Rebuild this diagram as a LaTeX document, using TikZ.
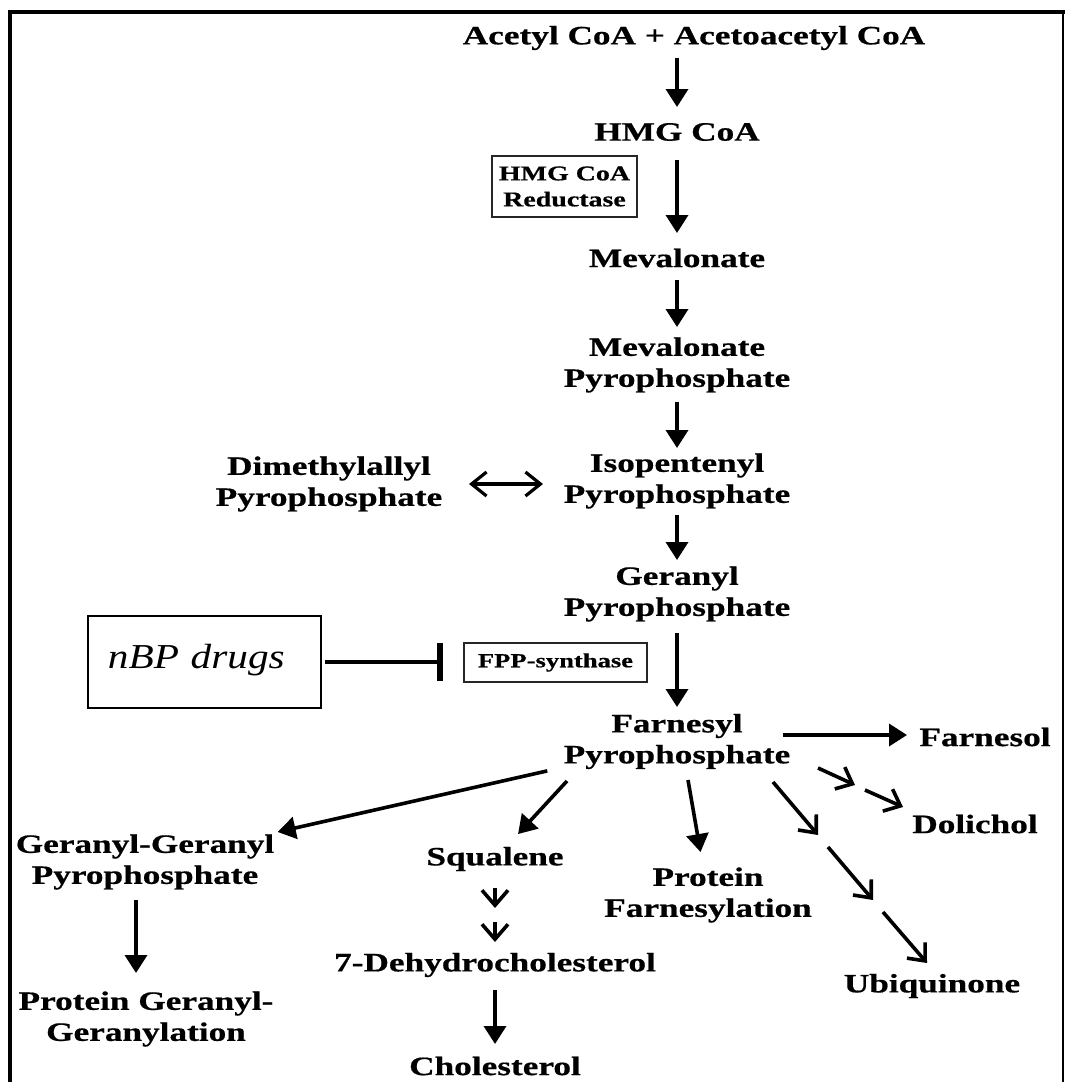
\documentclass[tikz,border=0pt]{standalone}
\usepackage{fontspec}
\newfontfamily\labfont{Liberation Serif Bold}[FakeStretch=1.33, FakeBold=0.6]
\newfontfamily\drugfont{Liberation Serif Italic}[FakeStretch=1.18]
\usetikzlibrary{arrows.meta}
\begin{document}
\begin{tikzpicture}[x=1pt,y=-1pt,
  lab/.style={font={\labfont\fontsize{26.5}{31}\selectfont}, align=center, inner sep=0pt},
  enzbox/.style={draw=black!85, line width=1.6pt, inner sep=0pt, align=center},
  arr/.style={line width=3.6pt, -{Triangle[width=22pt,length=18pt]}},
  openarr/.style={line width=3.6pt, -{Straight Barb[length=14pt,width=24pt,line width=3.6pt]}},
  smallopen/.style={line width=3.6pt, -{Straight Barb[length=15pt,width=26pt,line width=3.6pt]}},
  dblarr/.style={line width=3.2pt, {Straight Barb[length=15pt,width=24pt,line width=3.2pt]}-{Straight Barb[length=15pt,width=24pt,line width=3.2pt]}},
  inhib/.style={line width=4.5pt, -{Bar[width=38pt,line width=6pt]}},
  frameline/.style={line width=4pt}]
\useasboundingbox (0,0) rectangle (1065,1082);
% frame
\draw[frameline] (10.3,1082) -- (10.3,11.7) -- (1065,11.7);
\draw[line width=1.5pt] (1063,11.7) -- (1063,1082);

% main column
\node[lab] (acetyl) at (694,38) {Acetyl CoA + Acetoacetyl CoA};
\node[lab] (hmg) at (677,132) {HMG CoA};
\node[enzbox, minimum width=145pt, minimum height=61pt, font={\labfont\fontsize{21}{26}\selectfont}] (hmgr) at (564.5,186.5) {HMG CoA\\Reductase};
\node[lab] (mev) at (677,258) {Mevalonate};
\node[lab] (mpp) at (677,365) {Mevalonate\\Pyrophosphate};
\node[lab] (ipp) at (677,481) {Isopentenyl\\Pyrophosphate};
\node[lab] (dmapp) at (329,484) {Dimethylallyl\\Pyrophosphate};
\node[lab] (gpp) at (677,594) {Geranyl\\Pyrophosphate};
\node[enzbox, minimum width=183pt, minimum height=39pt, font={\labfont\fontsize{20}{24}\selectfont}] (fppsyn) at (555.5,662.5) {FPP-synthase};
\node[draw, line width=1.8pt, anchor=north west, inner xsep=20pt, inner ysep=0pt, text width=193pt, align=left, text height=53pt, text depth=39pt, font={\drugfont\fontsize{35}{40}\selectfont}] (nbp) at (87,615) {nBP drugs};
\node[lab] (fpp) at (677,741.5) {Farnesyl\\Pyrophosphate};

% products
\node[lab] (farnesol) at (985,737) {Farnesol};
\node[lab] (dolichol) at (975,824) {Dolichol};
\node[lab] (ubiq) at (932,986) {Ubiquinone};
\node[lab] (ggpp) at (145,862) {Geranyl-Geranyl\\Pyrophosphate};
\node[lab] (pgg) at (146,1019) {Protein Geranyl-\\Geranylation};
\node[lab] (squal) at (495,859) {Squalene};
\node[lab] (protf) at (708,895) {Protein\\Farnesylation};
\node[lab] (dhc) at (495,965) {7-Dehydrocholesterol};
\node[lab] (chol) at (495,1066) {Cholesterol};

% free start points
\coordinate (fol0) at (783,735);
\coordinate (sq0) at (567,781);
\coordinate (pf0) at (688,780);
\coordinate (d1a) at (818,768); \coordinate (d1b) at (855,785);
\coordinate (d2a) at (865,790); \coordinate (d2b) at (903,807);
\coordinate (u1a) at (773,782); \coordinate (u1b) at (818,835);
\coordinate (u2a) at (828,847); \coordinate (u2b) at (873,900);
\coordinate (u3a) at (883,912); \coordinate (u3b) at (927,963);

% main pathway arrows
\draw[arr, shorten <=20pt, shorten >=25pt] (acetyl.center -| hmg.center) -- (hmg.center);
\draw[arr, shorten <=28pt, shorten >=25pt] (hmg.center) -- (mev.center);
\draw[arr, shorten <=22pt, shorten >=38pt] (mev.center) -- (mpp.center);
\draw[arr, shorten <=37pt, shorten >=33pt] (mpp.center) -- (ipp.center);
\draw[arr, shorten <=34pt, shorten >=34pt] (ipp.center) -- (gpp.center);
\draw[arr, shorten <=39pt, shorten >=34.5pt] (gpp.center) -- (fpp.center);
\draw[dblarr, shorten <=140pt, shorten >=134pt] (dmapp.center) -- (dmapp.center -| ipp.center);

% inhibition
\draw[inhib, shorten <=3pt, shorten >=20pt] (nbp.east) -- (nbp.east -| fppsyn.west);

% branches from FPP
\draw[arr, shorten >=78pt] (fol0) -- (fol0 -| farnesol.center);
\draw[openarr] (d1a) -- (d1b);
\draw[openarr] (d2a) -- (d2b);
\draw[openarr] (u1a) -- (u1b);
\draw[openarr] (u2a) -- (u2b);
\draw[openarr] (u3a) -- (u3b);
\draw[arr, shorten <=133pt, shorten >=136pt] (fpp.center) -- (ggpp.center);
\draw[arr, shorten >=34pt] (sq0) -- (squal.center);
\draw[arr, shorten >=43.6pt] (pf0) -- (protf.center);

% downstream
\draw[smallopen, shorten <=29pt, shorten >=57pt] (squal.center) -- (dhc.center);
\draw[smallopen, shorten <=63pt, shorten >=23pt] (squal.center) -- (dhc.center);
\draw[arr, shorten <=25pt, shorten >=22pt] (dhc.center) -- (chol.center);
\draw[arr, shorten <=38pt, shorten >=46pt] ([xshift=-9pt]ggpp.center) -- ([xshift=-9pt]ggpp.center |- pgg.center);
\end{tikzpicture}
\end{document}
